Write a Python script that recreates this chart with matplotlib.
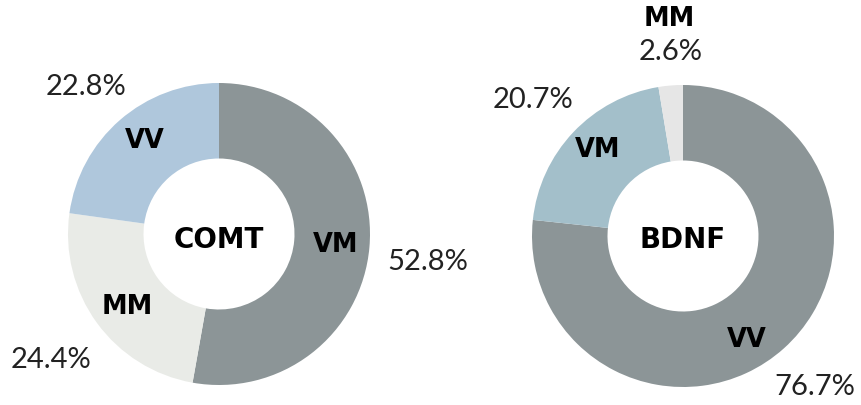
import matplotlib
matplotlib.use("Agg")
import matplotlib.pyplot as plt

# COMT genotype shares (clockwise from 12 o'clock)
comt_labels = ["VM", "MM", "VV"]
comt_values = [52.8, 24.4, 22.8]
comt_colors = ["#8c9597", "#e9ebe7", "#afc7dc"]

# BDNF genotype shares
bdnf_labels = ["VV", "VM", "MM"]
bdnf_values = [76.7, 20.7, 2.6]
bdnf_colors = ["#8c9597", "#a3bfca", "#e6e6e6"]

H = 405
fig = plt.figure(figsize=(8.62, 4.05), dpi=100)
ax = fig.add_axes([0, 0, 1, 1])

R = 151
ax.pie(comt_values, colors=comt_colors, startangle=90, counterclock=False,
       radius=R, center=(219, H - 234), frame=True,
       wedgeprops=dict(width=R * 0.5, linewidth=0))
ax.pie(bdnf_values, colors=bdnf_colors, startangle=90, counterclock=False,
       radius=R, center=(683, H - 236), frame=True,
       wedgeprops=dict(width=R * 0.5, linewidth=0))
ax.set_xlim(0, 862)
ax.set_ylim(0, H)
ax.set_aspect("equal")
ax.axis("off")

center = dict(fontfamily="DejaVu Sans", fontweight="bold", fontsize=20,
              ha="center", va="center", color="black")
bold = dict(fontfamily="DejaVu Sans", fontweight="bold", fontsize=18.5,
            ha="center", va="center", color="black")
light = dict(fontfamily="Lato", fontweight="normal", fontsize=21,
             ha="center", va="center", color="#222222")

# COMT
ax.text(219, H - 240, "COMT", **center)
ax.text(336, H - 245, comt_labels[0], **bold)
ax.text(127, H - 307, comt_labels[1], **bold)
ax.text(145, H - 141, comt_labels[2], **bold)
ax.text(428, H - 262, f"{comt_values[0]}%", **light)
ax.text(51, H - 360, f"{comt_values[1]}%", **light)
ax.text(86, H - 87, f"{comt_values[2]}%", **light)

# BDNF
ax.text(683, H - 240, "BDNF", **center)
ax.text(747, H - 340, bdnf_labels[0], **bold)
ax.text(598, H - 150, bdnf_labels[1], **bold)
ax.text(669, H - 19, bdnf_labels[2], **bold)
ax.text(815, H - 387, f"{bdnf_values[0]}%", **light)
ax.text(533, H - 100, f"{bdnf_values[1]}%", **light)
ax.text(671, H - 52, f"{bdnf_values[2]}%", **light)

fig.savefig("out.png", dpi=100)
